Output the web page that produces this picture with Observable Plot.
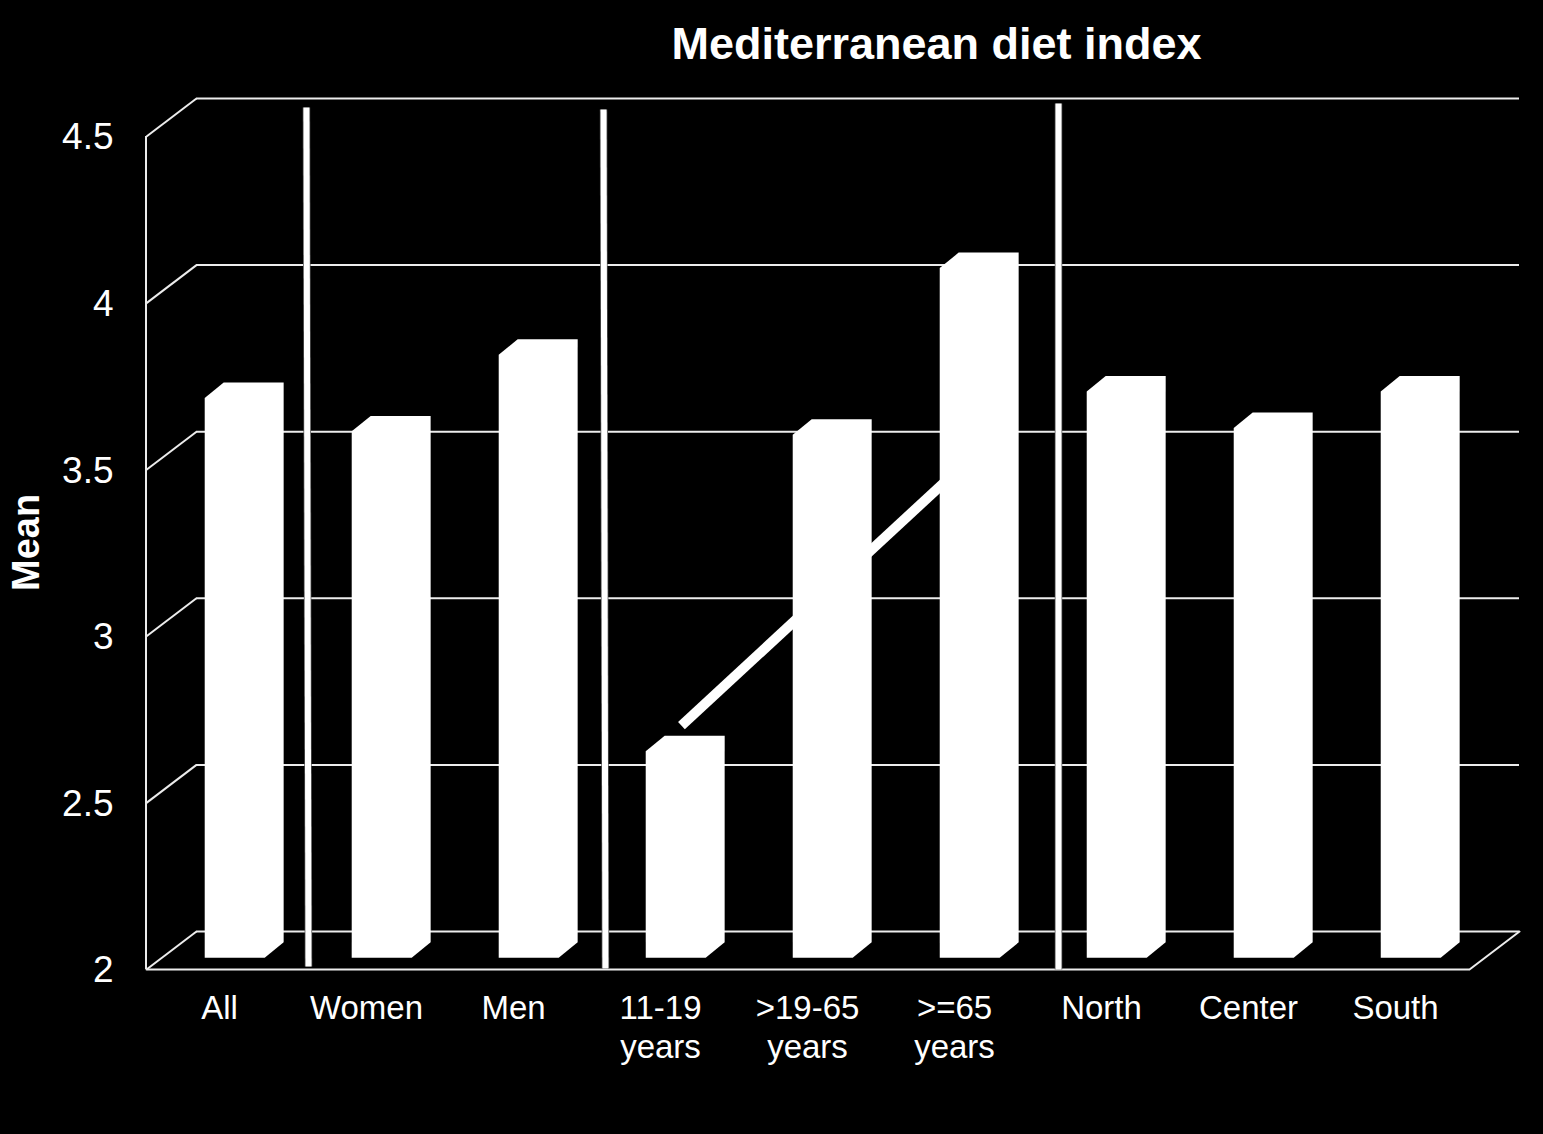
<!DOCTYPE html>
<html>
<head>
<meta charset="utf-8">
<script src="https://cdn.jsdelivr.net/npm/d3@7"></script>
<script src="https://cdn.jsdelivr.net/npm/@observablehq/plot@0.6"></script>
<style>
html,body{margin:0;background:#000;overflow:hidden}
#title{height:80px;box-sizing:border-box;padding-left:330px;text-align:center;color:#fff;font:bold 45px/88px "Liberation Sans",Arial,sans-serif}
svg{display:block}
</style>
</head>
<body>
<div id="title"></div>
<div id="chart"></div>
<script>
const chartTitle = "Mediterranean diet index";
const yLabel = "Mean";
const categories = ["All","Women","Men","11-19\nyears",">19-65\nyears",">=65\nyears","North","Center","South"];
const means = [3.68,3.58,3.81,2.62,3.57,4.07,3.70,3.59,3.70];
const yTicks = [2,2.5,3,3.5,4,4.5];

// Pseudo-3D projection, in scale units
const wallDepthX = 0.34, wallDepthY = 0.114;
const barLeft = 0.396, barWidth = 0.408;
const barDepthX = 0.129, barDepthY = 0.0465, barBase = 2.035;

// Separators and slanted trend stroke, in scale units
const separators = [
  {id:1, x:[1.088,1.102], y:[4.587,2.009]},
  {id:2, x:[3.109,3.122], y:[4.581,2.003]},
  {id:3, x:[6.204,6.204], y:[4.599,2.000]}
];
const trend = {x:[3.639,5.435], y:[2.732,3.465]};

document.getElementById("title").textContent = chartTitle;

const barOutline = categories.flatMap((c,i)=>{
  const l=i+barLeft, r=l+barWidth, top=means[i]+barBase-2;
  return [
    [l,barBase],[l,top],[l+barDepthX,top+barDepthY],[r+barDepthX,top+barDepthY],
    [r+barDepthX,barBase+barDepthY],[r,barBase]
  ].map(([x,y])=>({c,x,y}));
});
const sepPoints = separators.flatMap(s=>s.x.map((x,k)=>({id:s.id,x,y:s.y[k]})));
const trendPoints = trend.x.map((x,k)=>({x,y:trend.y[k]}));
const floor = [
  {x:0,y:2},{x:categories.length,y:2},{x:categories.length+wallDepthX,y:2+wallDepthY}
];
const centers = categories.map((c,i)=>i+0.5);
const gridColor = "#ececec";

const chart = Plot.plot({
  width:1543, height:1054,
  marginLeft:146, marginRight:24, marginTop:18, marginBottom:165,
  style:{background:"#000",color:"#fff",fontFamily:'"Liberation Sans",Arial,sans-serif'},
  x:{domain:[0,categories.length+wallDepthX],range:[146,1519]},
  y:{domain:[2,4.5+wallDepthY]},
  marks:[
    Plot.ruleY(yTicks,{y:d=>d+wallDepthY,x1:wallDepthX,x2:categories.length+wallDepthX,stroke:gridColor,strokeWidth:2}),
    Plot.link(yTicks,{x1:0,y1:d=>d,x2:wallDepthX,y2:d=>d+wallDepthY,stroke:gridColor,strokeWidth:2}),
    Plot.ruleX([0],{y1:2,y2:4.5,stroke:gridColor,strokeWidth:2,dx:-0.5}),
    Plot.line(floor,{x:"x",y:"y",stroke:gridColor,strokeWidth:2}),
    Plot.line(sepPoints,{x:"x",y:"y",z:"id",stroke:"#555",strokeWidth:7.5,strokeLinecap:"butt"}),
    Plot.line(sepPoints,{x:"x",y:"y",z:"id",stroke:"#fff",strokeWidth:6,strokeLinecap:"butt"}),
    Plot.line(trendPoints,{x:"x",y:"y",stroke:"#fff",strokeWidth:10,strokeLinecap:"butt"}),
    Plot.line(barOutline,{x:"x",y:"y",z:"c",fill:"#fff",stroke:"none"}),
    Plot.axisY({ticks:yTicks,tickFormat:d=>String(d),tickSize:0,tickPadding:33,fontSize:37,label:null,color:"#fff",dy:1}),
    Plot.axisX({ticks:centers,tickFormat:d=>categories[d-0.5],tickSize:0,tickPadding:22,fontSize:33,lineHeight:1.18,label:null,color:"#fff",dx:-0.5}),
    Plot.text([yLabel],{frameAnchor:"left",rotate:-90,dx:-120,dy:57,fontSize:38,fontWeight:"bold",fill:"#fff"})
  ]
});
document.getElementById("chart").append(chart);
</script>
</body>
</html>
